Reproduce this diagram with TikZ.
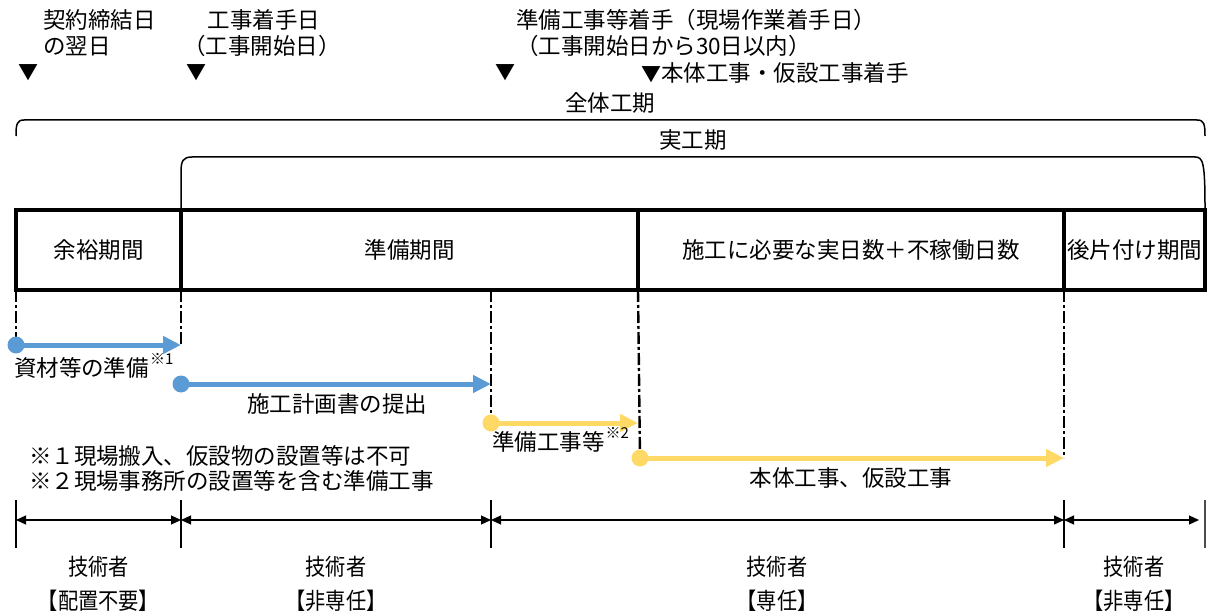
\documentclass[tikz,border=0pt]{standalone}
\usepackage{fontspec}
\usepackage{graphicx}
\setmainfont{Noto Sans CJK JP}
\usetikzlibrary{arrows.meta}
\definecolor{barblue}{HTML}{5B9BD5}
\definecolor{baryel}{HTML}{FFD966}
\newcommand{\condensed}[1]{\scalebox{0.88}[1]{#1}}
\begin{document}
\begin{tikzpicture}[x=1pt,y=-1pt,
  every node/.style={inner sep=0pt, outer sep=0pt, font=\fontsize{22.5}{26}\selectfont},
  period/.style={draw, line width=4pt, minimum height=80pt},
  guide/.style={line width=2.4pt, dash pattern=on 12pt off 3pt on 3pt off 3pt},
  bararrow/.style={line width=5pt, -{Triangle[length=18pt,width=17pt]}},
  dimarrow/.style={line width=1.2pt, {Triangle[length=10pt,width=9pt]}-{Triangle[length=10pt,width=9pt]}},
  tickline/.style={line width=2pt},
  brace/.style={line width=1.5pt},
  supfont/.style={font=\fontsize{15}{17}\selectfont},
  lbl/.style={font=\fontsize{23}{26}\selectfont},
  tri/.style={font=\fontsize{20}{24}\selectfont}]
\useasboundingbox (0,0) rectangle (1208,615);

% top labels
\node[anchor=west] (t1a) at (43,20) {契約締結日};
\node[anchor=west] (t1b) at (43,46) {の翌日};
\node (t2a) at (264,20) {工事着手日};
\node (t2b) at (262,46) {（工事開始日）};
\node[anchor=west] (t3a) at (516,20) {準備工事等着手（現場作業着手日）};
\node[anchor=west] (t3b) at (516,46) {（工事開始日から30日以内）};
\node[tri] (m1) at (29,73) {▼};
\node[tri] (m2) at (196,73) {▼};
\node[tri] (m3) at (505,73) {▼};
\node[anchor=west] (m4) at (641,73) {\fontsize{20}{24}\selectfont ▼\fontsize{22.5}{26}\selectfont 本体工事・仮設工事着手};

% braces
\node (whole) at (610,103) {全体工期};
\draw[brace] (16,136) .. controls (16,124) and (17,120) .. (24,120) -- (1197,120) .. controls (1204,120) and (1205,124) .. (1205,136);
\node (actual) at (693,140) {実工期};
\draw[brace] (181,208) -- (181,172) .. controls (181,161) and (183,157) .. (192,157) -- (1195,157) .. controls (1203,157) and (1205,162) .. (1205,208);

% period bar
\node[period, minimum width=165pt] (p1) at (98.5,250) {余裕期間};
\node[period, minimum width=457pt] (p2) at (409.5,250) {準備期間};
\node[period, minimum width=426pt] (p3) at (851,250) {施工に必要な実日数＋不稼働日数};
\node[period, minimum width=141pt] (p4) at (1134.5,250) {後片付け期間};

% arrow coordinates
\coordinate (a1s) at (16,345);
\coordinate (a1e) at (181,345);
\coordinate (a2s) at (181,384);
\coordinate (a2e) at (491,384);
\coordinate (a3s) at (491,423);
\coordinate (a3e) at (638,423);
\coordinate (a4s) at (640,458);
\coordinate (a4e) at (1064,458);
\coordinate (g3) at (491,290);

% guide lines
\draw[guide] (p1.south west) -- (a1s);
\draw[guide] (p2.south west) -- (a1e);
\draw[guide] (g3) -- (a3s);
\draw[guide] (p3.south west) -- (a4s);
\draw[guide] (p4.south west) -- (a4e);

% bars
\draw[bararrow, barblue] (a1s) -- (a1e);
\fill[barblue] (a1s) circle (8.5pt);
\draw[bararrow, barblue] (a2s) -- (a2e);
\fill[barblue] (a2s) circle (8.5pt);
\draw[bararrow, baryel] (a3s) -- (a3e);
\fill[baryel] (a3s) circle (8.5pt);
\draw[bararrow, baryel] (a4s) -- (a4e);
\fill[baryel] (a4s) circle (8.5pt);

% bar labels
\node[anchor=west] (l1) at (14,368) {資材等の準備};
\node[supfont, anchor=west] (l1s) at ([xshift=1pt,yshift=9pt]l1.east) {※1};
\node (l2) at (337,404) {施工計画書の提出};
\node[anchor=west] (l3) at (492,442) {準備工事等};
\node[supfont, anchor=west] (l3s) at ([xshift=1pt,yshift=9pt]l3.east) {※2};
\node (l4) at (851,478) {本体工事、仮設工事};

% notes
\node[anchor=west] (n1) at (29,456) {※１現場搬入、仮設物の設置等は不可};
\node[anchor=west] (n2) at (29,481) {※２現場事務所の設置等を含む準備工事};

% bottom dimension lines
\coordinate (b1t) at (16,500); \coordinate (b1b) at (16,548);
\coordinate (b2t) at (181,500); \coordinate (b2b) at (181,548);
\coordinate (b3t) at (491,500); \coordinate (b3b) at (491,548);
\coordinate (b4t) at (1064,500); \coordinate (b4b) at (1064,548);
\coordinate (b5t) at (1205,500); \coordinate (b5b) at (1205,548);
\draw[tickline] (b1t) -- (b1b);
\draw[tickline] (b2t) -- (b2b);
\draw[tickline] (b3t) -- (b3b);
\draw[tickline] (b4t) -- (b4b);
\draw[tickline, line width=1.2pt, black!70] (b5t) -- (b5b);
\coordinate (d1) at (16,520); \coordinate (d2) at (181,520);
\coordinate (d3) at (491,520); \coordinate (d4) at (1064,520);
\coordinate (d5) at (1199,520);
\draw[dimarrow] (d1) -- (d2);
\draw[dimarrow] (d2) -- (d3);
\draw[dimarrow] (d3) -- (d4);
\draw[dimarrow] (d4) -- (d5);

\node[lbl] (e1) at (98.5,567) {\condensed{技術者}};
\node[lbl] (e2) at (336,567) {\condensed{技術者}};
\node[lbl] (e3) at (777,567) {\condensed{技術者}};
\node[lbl] (e4) at (1134,567) {\condensed{技術者}};
\node[lbl] (f1) at (98.5,601) {\condensed{【配置不要】}};
\node[lbl] (f2) at (336,601) {\condensed{【非専任】}};
\node[lbl] (f3) at (777,601) {\condensed{【専任】}};
\node[lbl] (f4) at (1134,601) {\condensed{【非専任】}};
\end{tikzpicture}
\end{document}
